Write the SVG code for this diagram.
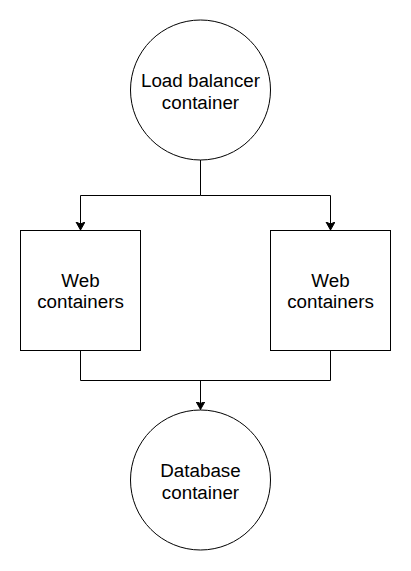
<svg xmlns="http://www.w3.org/2000/svg" width="411" height="571" viewBox="0 0 411 571">
<defs>
<style>
.shape{fill:#ffffff;stroke:#000000;stroke-width:1}
.edge{fill:none;stroke:#000000;stroke-width:1}
.lbl{font-family:"Liberation Sans",Arial,sans-serif;font-size:18.8px;fill:#000000;text-anchor:middle}
</style>
<marker id="arrow" markerWidth="10" markerHeight="10" refX="8" refY="4.5" orient="auto" markerUnits="userSpaceOnUse">
<path d="M0,0 L8,4.5 L0,9 L2,4.5 Z" fill="#000000" stroke="#000000" stroke-width="1"/>
</marker>
</defs>
<rect width="411" height="571" fill="#ffffff"/>
<g id="connectors">
<path class="edge" d="M200.5,160 V195.5 H80.5 V230" marker-end="url(#arrow)"/>
<path class="edge" d="M200.5,195.5 H330.5 V230" marker-end="url(#arrow)"/>
<path class="edge" d="M80.5,350.5 V380.5 H330.5 V350.5"/>
<path class="edge" d="M200.5,380.5 V409.5" marker-end="url(#arrow)"/>
</g>
<g id="load-balancer">
<circle class="shape" cx="200.5" cy="90" r="70"/>
<text class="lbl" x="200.5" y="87">Load balancer</text>
<text class="lbl" x="200.5" y="108.6">container</text>
</g>
<g id="web-left">
<rect class="shape" x="20.5" y="230.5" width="120" height="120"/>
<text class="lbl" x="80.5" y="286.7">Web</text>
<text class="lbl" x="80.5" y="308.3">containers</text>
</g>
<g id="web-right">
<rect class="shape" x="270.5" y="230.5" width="120" height="120"/>
<text class="lbl" x="330.5" y="286.7">Web</text>
<text class="lbl" x="330.5" y="308.3">containers</text>
</g>
<g id="database">
<circle class="shape" cx="200.5" cy="480" r="70"/>
<text class="lbl" x="200.5" y="477">Database</text>
<text class="lbl" x="200.5" y="498.6">container</text>
</g>
</svg>
